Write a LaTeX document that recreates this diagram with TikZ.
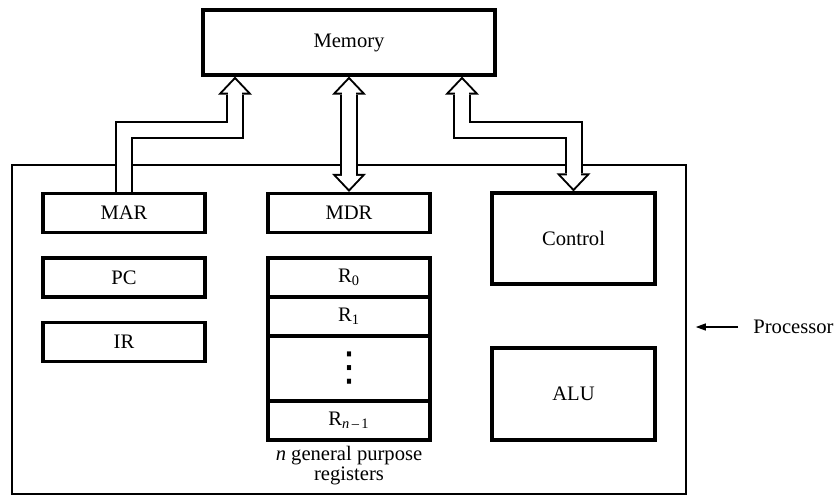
\documentclass[tikz,border=0pt]{standalone}
\usepackage{fontspec}
\setmainfont{Liberation Serif}
\newfontfamily\dotsfont{DejaVu Sans}
\usetikzlibrary{arrows.meta,backgrounds}

\begin{document}
\begin{tikzpicture}[x=0.5pt,y=-0.5pt,
  box/.style={draw,line width=1.6pt,inner sep=0pt,font=\fontsize{10.3}{12}\selectfont},
  reg/.style={box,minimum width=81pt,minimum height=19.5pt},
  unit/.style={box,minimum width=81.5pt,minimum height=45.5pt},
  bus/.style={line width=9pt,>={Triangle[width=17pt,length=9pt,line width=0pt]}},
  bus hollow/.style={white,line width=7pt,>={Triangle[width=12.4pt,length=6.55pt,line width=0pt]}},
  bus core/.style={white,line width=7pt}]

\useasboundingbox (0,0) rectangle (835,498);

% Memory
\node[box,minimum width=146pt,minimum height=32.5pt] (memory) at (349,42.5) {Memory};

% Left column
\node[reg] (mar) at (124,213)   {MAR};
\node[reg] (pc)  at (124,277.5) {PC};
\node[reg] (ir)  at (124,342)   {IR};

% Middle column
\node[reg] (mdr) at (349,213) {MDR};
\node[reg] (r0)  at (349,277.5) {R\textsubscript{0}};
\node[reg] (r1)  at (349,316.5) {R\textsubscript{1}};
\node[reg,minimum height=32.5pt,font=\dotsfont\fontsize{20}{20}\selectfont] (rdots) at (349,368.5) {⋮};
\node[reg] (rn)  at (349,420.5) {R\textsubscript{\textit{n}\,--\,1}};
\node[align=center,inner sep=0pt,font=\fontsize{10.3}{8}\selectfont] (reglabel) at (349,466)
  {\textit{n} general purpose\\registers};

% Right column
\node[unit] (control) at (573.5,238.5) {Control};
\node[unit,minimum height=46pt] (alu) at (573.5,394) {ALU};

\begin{scope}[on background layer]
% Processor frame
\node[draw,line width=0.8pt,minimum width=337pt,minimum height=164.5pt] (proc) at (349,329.5) {};

% Bus bends
\coordinate (marbus) at (235,130);
\coordinate (ctlbus) at (462,130);

% MAR -> Memory
\draw[bus,->] (mar.north) |- (marbus) -- (marbus |- memory.south);
\draw[bus hollow,->,shorten >=1.45pt] (mar.north) |- (marbus) -- (marbus |- memory.south);
\draw[bus core,shorten >=6pt] (mar.north) |- (marbus) -- (marbus |- memory.south);

% Memory <-> MDR
\draw[bus,<->] (memory.south) -- (mdr.north);
\draw[bus hollow,<->,shorten <=1.45pt,shorten >=1.45pt] (memory.south) -- (mdr.north);
\draw[bus core,shorten <=6pt,shorten >=6pt] (memory.south) -- (mdr.north);

% Memory <-> Control
\draw[bus,<->] (ctlbus |- memory.south) -- (ctlbus) -| (control.north);
\draw[bus hollow,<->,shorten <=1.45pt,shorten >=1.45pt] (ctlbus |- memory.south) -- (ctlbus) -| (control.north);
\draw[bus core,shorten <=6pt,shorten >=6pt] (ctlbus |- memory.south) -- (ctlbus) -| (control.north);
\end{scope}

% Processor label
\node[anchor=west,inner sep=0pt,font=\fontsize{10.3}{12}\selectfont] (proclabel) at (753,327) {Processor};
\draw[line width=0.6pt,-{Triangle[length=5pt,width=3.5pt]},shorten <=7.5pt,shorten >=4.5pt]
  (proclabel.west) -- (proclabel.west -| proc.east);

\end{tikzpicture}
\end{document}
